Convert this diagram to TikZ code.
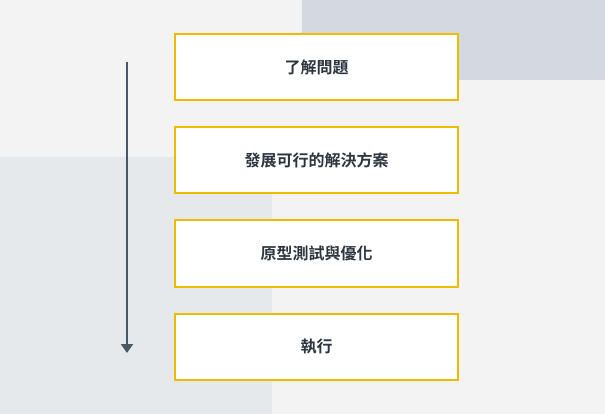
\documentclass[tikz,border=0pt]{standalone}
\usepackage{fontspec}
\newfontfamily\cjk{Noto Sans CJK TC}[BoldFont={Noto Sans CJK TC Bold}]
\usetikzlibrary{arrows.meta}
\definecolor{bgc}{HTML}{F3F3F3}
\definecolor{tr}{HTML}{D4D8DF}
\definecolor{bl}{HTML}{E5E9EC}
\definecolor{bord}{HTML}{EDBB00}
\definecolor{txt}{HTML}{2D3640}
\definecolor{arr}{HTML}{4A5866}
\tikzset{
  stepbox/.style={draw=bord, line width=2pt, fill=white, minimum width=283pt, minimum height=66pt, inner sep=0pt, font=\cjk\bfseries\fontsize{16}{19}\selectfont, text=txt},
}
\begin{document}
\begin{tikzpicture}[x=1pt,y=-1pt]
\fill[bgc] (0,0) rectangle (605,414);
\useasboundingbox (0,0) rectangle (605,414);
\fill[tr] (302,0) rectangle (605,80);
\fill[bl] (0,157) rectangle (272,414);
\node[stepbox] (s1) at (316.5,67.5) {了解問題};
\node[stepbox] (s2) at (316.5,160.5) {發展可行的解決方案};
\node[stepbox] (s3) at (316.5,253.5) {原型測試與優化};
\node[stepbox] (s4) at (316.5,346.5) {執行};
\coordinate (a1) at (127,62);
\coordinate (a2) at (127,353);
\draw[arr, line width=2pt, -{Triangle[width=12pt,length=9pt]}] (a1) -- (a2);
\end{tikzpicture}
\end{document}
